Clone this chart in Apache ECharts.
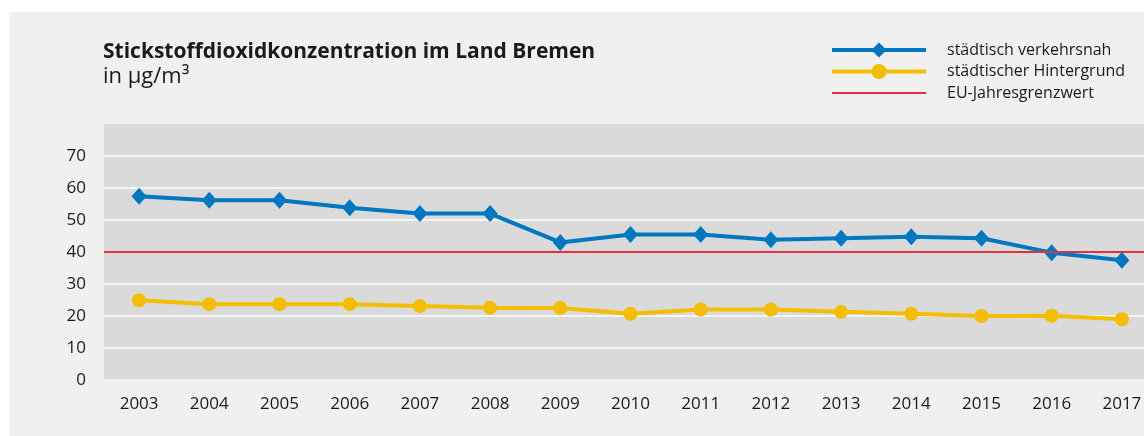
<!DOCTYPE html>
<html lang="de">
  <head>
    <meta charset="UTF-8" />
    <title>Stickstoffdioxidkonzentration im Land Bremen</title>
    <script src="https://cdn.jsdelivr.net/npm/echarts@6/dist/echarts.min.js"></script>
    <style>
      html, body { margin: 0; padding: 0; background: #ffffff; }
      #chart { width: 1144px; height: 436px; }
    </style>
  </head>
  <body>
    <div id="chart"></div>
    <script>
      // Jahre
      var years = ["2003", "2004", "2005", "2006", "2007", "2008", "2009", "2010",
        "2011", "2012", "2013", "2014", "2015", "2016", "2017"];
      // städtisch verkehrsnah
      var verkehrsnah = [57.4, 56.2, 56.2, 53.8, 52, 52, 43, 45.5, 45.5, 43.8, 44.3, 44.8, 44.3, 39.8, 37.4];
      // städtischer Hintergrund
      var hintergrund = [24.9, 23.7, 23.7, 23.7, 23.1, 22.6, 22.5, 20.7, 22, 22, 21.3, 20.7, 20, 20.1, 19];
      // EU-Jahresgrenzwert
      var grenzwert = 40;
      var yTicks = [0, 10, 20, 30, 40, 50, 60, 70];

      var font = "Open Sans";
      var chart = echarts.init(document.getElementById("chart"));

      chart.setOption({
        backgroundColor: "#ffffff",
        animation: false,
        textStyle: { fontFamily: font, color: "#1a1a1a" },
        graphic: [
          {
            type: "rect",
            z: -100,
            shape: { x: 9, y: 12, width: 1140, height: 430 },
            style: { fill: "#f0f0f0" },
          },
        ],
        title: {
          text: "Stickstoffdioxidkonzentration im Land Bremen",
          subtext: "in µg/m³",
          left: 103,
          top: 42,
          itemGap: 3,
          padding: 0,
          textStyle: { fontFamily: font, fontSize: 21, fontWeight: "bold", color: "#1a1a1a" },
          subtextStyle: { fontFamily: font, fontSize: 22, color: "#1a1a1a" },
        },
        legend: {
          orient: "vertical",
          left: 830,
          top: 42,
          padding: 0,
          itemWidth: 94,
          itemHeight: 19,
          itemGap: 5.5,
          lineStyle: { width: 4 },
          textStyle: { fontFamily: font, fontSize: 16, color: "#1a1a1a", padding: [0, 0, 0, 16] },
          data: [
            "städtisch verkehrsnah",
            "städtischer Hintergrund",
            {
              name: "EU-Jahresgrenzwert",
              icon: "path://M0,0H94V2H0Z",
              itemStyle: { color: "#e3323f" },
            },
          ],
        },
        grid: {
          left: 104,
          width: 1053,
          top: 124,
          bottom: 56,
          outerBoundsMode: "none",
          show: true,
          backgroundColor: "#d9dad9",
          borderWidth: 0,
        },
        xAxis: {
          type: "category",
          data: years,
          boundaryGap: true,
          axisLine: { show: false },
          axisTick: { show: false },
          axisLabel: { fontFamily: font, fontSize: 17, color: "#1a1a1a", margin: 16 },
        },
        yAxis: {
          type: "value",
          min: 0,
          max: 80,
          interval: 10,
          axisLine: { show: false },
          axisTick: { show: false },
          axisLabel: {
            fontFamily: font,
            fontSize: 17,
            color: "#1a1a1a",
            margin: 18,
            formatter: function (v) {
              return yTicks.indexOf(v) >= 0 ? String(v) : "";
            },
          },
          splitLine: {
            lineStyle: {
              width: 2,
              color: ["#f4f4f4", "#f4f4f4", "#f4f4f4", "#f4f4f4", "#f4f4f4",
                "#f4f4f4", "#f4f4f4", "#f4f4f4", "rgba(0,0,0,0)"],
            },
          },
        },
        series: [
          {
            name: "städtisch verkehrsnah",
            type: "line",
            data: verkehrsnah,
            symbol: "diamond",
            symbolSize: [15, 17],
            color: "#0078c1",
            lineStyle: { width: 4, color: "#0078c1" },
            itemStyle: { color: "#0078c1" },
            z: 4,
          },
          {
            name: "städtischer Hintergrund",
            type: "line",
            data: hintergrund,
            symbol: "circle",
            symbolSize: 14,
            color: "#f5bd00",
            lineStyle: { width: 4, color: "#f5bd00" },
            itemStyle: { color: "#f5bd00" },
            z: 3,
          },
          {
            name: "EU-Jahresgrenzwert",
            type: "line",
            data: [],
            symbol: "none",
            color: "#e3323f",
            lineStyle: { width: 2, color: "#e3323f" },
            markLine: {
              silent: true,
              symbol: "none",
              label: { show: false },
              lineStyle: { type: "solid", width: 2, color: "#e3323f" },
              data: [{ yAxis: grenzwert }],
            },
            z: 2,
          },
        ],
      });
    </script>
  </body>
</html>
